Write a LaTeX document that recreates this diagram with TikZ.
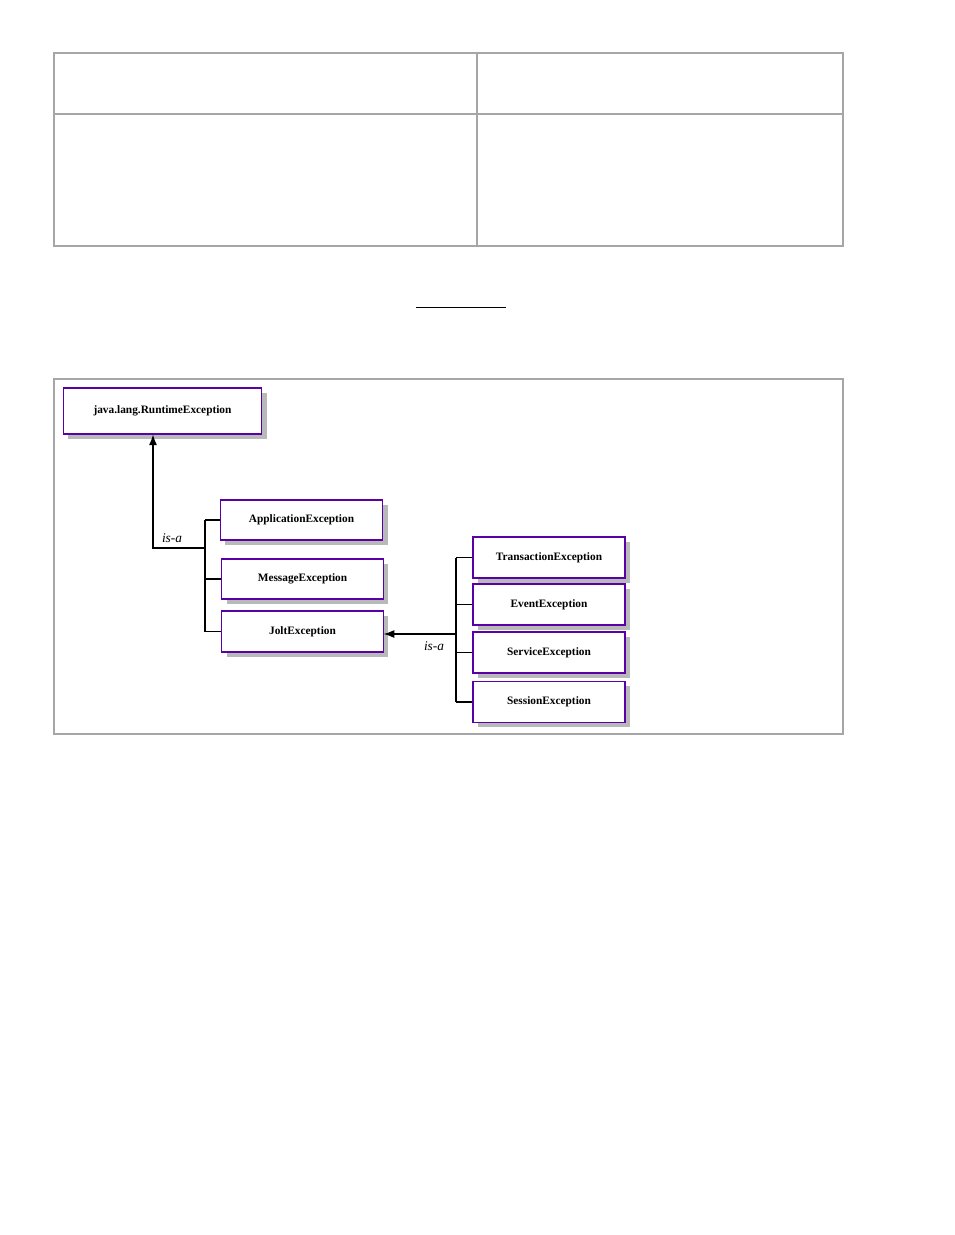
\documentclass[tikz,border=0pt]{standalone}
\usepackage{fontspec}
\setmainfont{Liberation Serif}
\usetikzlibrary{shadows,arrows.meta}

\tikzset{
  exbox/.style={draw=violet!70!blue,thick,fill=white,font=\bfseries\fontsize{8.5}{10}\selectfont,
    inner sep=0pt,minimum height=30.75pt,
    drop shadow={shadow xshift=3.5pt,shadow yshift=-3.5pt,fill=gray!55,opacity=1}},
  isa/.style={font=\itshape\fontsize{10}{12}\selectfont},
  link/.style={black,thick},
  frame/.style={draw=gray!70,thick}
}

\begin{document}
\begin{tikzpicture}[x=0.75pt,y=-0.75pt]

  \useasboundingbox (0,0) rectangle (954,1235);

  % Table at the top
  \draw[frame] (54,53) rectangle (843,246);
  \draw[frame] (477,53) -- (477,246);
  \draw[frame] (54,114) -- (843,114);
  \draw[black] (416,307) -- (506,307);

  % Diagram frame
  \draw[frame] (54,379) rectangle (843,734);

  % Exception classes
  \node[exbox,minimum width=149pt,minimum height=34.5pt] (runtime) at (162.5,411) {java.lang.RuntimeException};
  \node[exbox,minimum width=122pt,minimum height=30pt] (app) at (301.5,520) {ApplicationException};
  \node[exbox,minimum width=121pt,minimum height=30pt] (msg) at (302.5,579) {MessageException};
  \node[exbox,minimum width=121pt] (jolt) at (302.5,631.5) {JoltException};

  \node[exbox,minimum width=114pt] (trans) at (549,557.5) {TransactionException};
  \node[exbox,minimum width=114pt] (event) at (549,604.5) {EventException};
  \node[exbox,minimum width=114pt] (service) at (549,652.5) {ServiceException};
  \node[exbox,minimum width=114pt] (session) at (549,702) {SessionException};

  % Left is-a tree
  \coordinate (lj) at (153,548);
  \coordinate (lt) at (205,548);
  \draw[link,-{Latex[length=8pt,width=6pt]}] (lt) -- (lj) -- (lj |- runtime.south);
  \draw[link] (lt |- app.west) -- (lt |- jolt.west);
  \foreach \n in {app,msg,jolt}
    \draw[link] (lt |- \n.west) -- (\n.west);
  \node[isa] (isa1) at (172,538) {is-a};

  % Right is-a tree
  \coordinate (rt) at (456,634);
  \draw[link,-{Latex[length=8pt,width=6pt]}] (rt) -- (rt -| jolt.east);
  \draw[link] (rt |- trans.west) -- (rt |- session.west);
  \foreach \n in {trans,event,service,session}
    \draw[link] (rt |- \n.west) -- (\n.west);
  \node[isa] (isa2) at (434,646) {is-a};

\end{tikzpicture}
\end{document}
